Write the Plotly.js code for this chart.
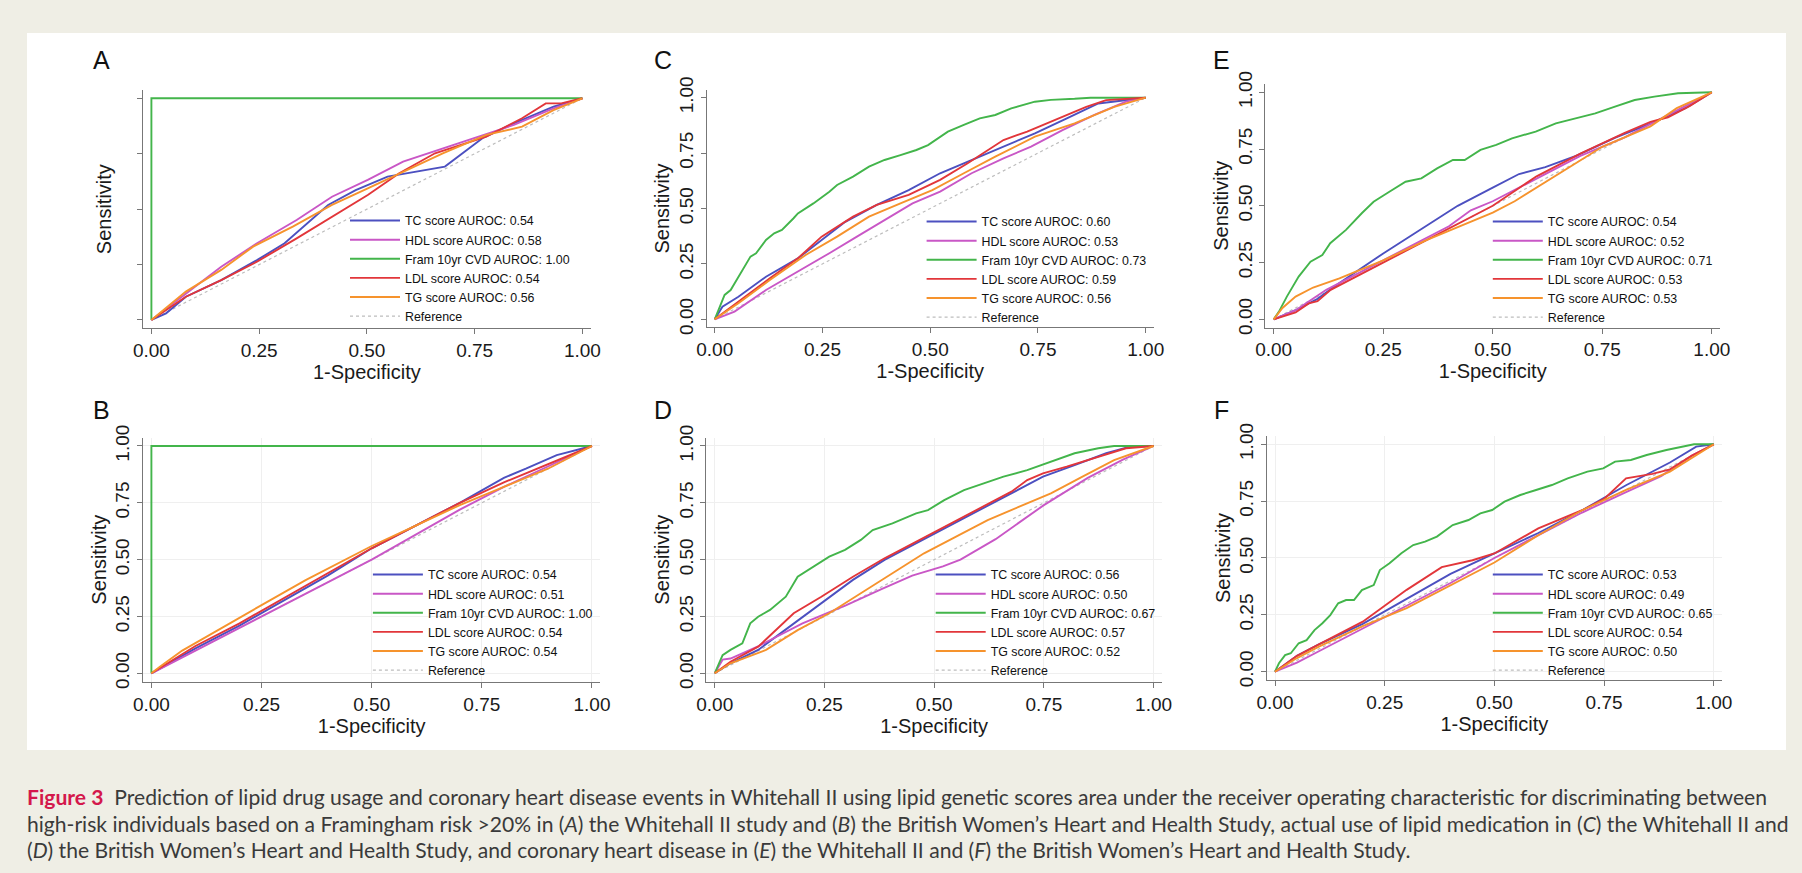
<!DOCTYPE html>
<html><head><meta charset="utf-8">
<script src="https://cdn.plot.ly/plotly-3.0.1.min.js"></script>
<style>html,body{margin:0;padding:0;background:#efeee5;} #chart{width:1802px;height:873px;}</style>
</head><body><div id="chart"></div>
<script>
// ---------- data ----------
const seriesNames = ['TC score', 'HDL score', 'Fram 10yr CVD', 'LDL score', 'TG score'];
const panelLetters = ['A', 'C', 'E', 'B', 'D', 'F'];
const tickVals = [0, 0.25, 0.5, 0.75, 1];
const tickText = ['0.00', '0.25', '0.50', '0.75', '1.00'];
const xTitle = '1-Specificity';
const yTitle = 'Sensitivity';

const aurocA = [0.54, 0.58, 1.00, 0.54, 0.56];
const aurocB = [0.54, 0.51, 1.00, 0.54, 0.54];
const aurocC = [0.60, 0.53, 0.73, 0.59, 0.56];
const aurocD = [0.56, 0.50, 0.67, 0.57, 0.52];
const aurocE = [0.54, 0.52, 0.71, 0.53, 0.53];
const aurocF = [0.53, 0.49, 0.65, 0.54, 0.50];

const ref_x = [0, 1];
const ref_y = [0, 1];

// Panel A
const A_tc_x = [0,0.034,0.08,0.162,0.245,0.309,0.41,0.474,0.548,0.612,0.681,0.768,0.841,0.933,1];
const A_tc_y = [0,0.03,0.105,0.18,0.27,0.346,0.519,0.586,0.647,0.669,0.692,0.82,0.887,0.962,1];
const A_hdl_x = [0,0.08,0.162,0.245,0.337,0.419,0.502,0.584,0.676,0.768,0.841,0.933,1];
const A_hdl_y = [0,0.12,0.24,0.346,0.451,0.556,0.632,0.714,0.774,0.835,0.88,0.955,1];
const A_fram_x = [0,0,1];
const A_fram_y = [0,1,1];
const A_ldl_x = [0,0.08,0.162,0.245,0.337,0.419,0.502,0.575,0.658,0.777,0.86,0.915,0.951,1];
const A_ldl_y = [0,0.105,0.18,0.263,0.368,0.466,0.564,0.662,0.752,0.827,0.91,0.977,0.977,1];
const A_tg_x = [0,0.08,0.162,0.236,0.328,0.419,0.502,0.584,0.676,0.777,0.86,0.933,1];
const A_tg_y = [0,0.128,0.226,0.331,0.421,0.519,0.594,0.669,0.752,0.835,0.872,0.947,1];

// Panel B
const B_tc_x = [0,0.05,0.1,0.2,0.3,0.4,0.5,0.6,0.7,0.8,0.85,0.92,1];
const B_tc_y = [0,0.055,0.11,0.21,0.32,0.43,0.55,0.65,0.75,0.86,0.9,0.96,1];
const B_hdl_x = [0,0.1,0.2,0.3,0.4,0.5,0.6,0.7,0.8,0.9,1];
const B_hdl_y = [0,0.1,0.2,0.3,0.4,0.5,0.61,0.72,0.82,0.91,1];
const B_fram_x = [0,0,1];
const B_fram_y = [0,1,1];
const B_ldl_x = [0,0.05,0.1,0.2,0.3,0.4,0.5,0.6,0.7,0.8,0.9,0.95,1];
const B_ldl_y = [0,0.06,0.12,0.22,0.33,0.44,0.55,0.65,0.75,0.84,0.92,0.96,1];
const B_tg_x = [0,0.02,0.07,0.15,0.25,0.35,0.45,0.5,0.6,0.7,0.8,0.9,1];
const B_tg_y = [0,0.03,0.1,0.19,0.3,0.41,0.51,0.56,0.65,0.74,0.82,0.9,1];

// Panel C
const C_tc_x = [0,0.018,0.055,0.119,0.193,0.248,0.303,0.376,0.45,0.523,0.596,0.67,0.743,0.817,0.89,1];
const C_tc_y = [0,0.057,0.102,0.192,0.275,0.358,0.44,0.516,0.583,0.659,0.719,0.779,0.839,0.907,0.974,1];
const C_hdl_x = [0,0.046,0.119,0.193,0.266,0.33,0.394,0.459,0.523,0.596,0.67,0.734,0.807,0.881,0.954,1];
const C_hdl_y = [0,0.035,0.132,0.215,0.298,0.373,0.448,0.523,0.576,0.659,0.726,0.779,0.854,0.922,0.982,1];
const C_fram_x = [0,0.009,0.023,0.037,0.055,0.073,0.083,0.096,0.119,0.138,0.156,0.183,0.193,0.229,0.266,0.284,0.321,0.358,0.394,0.431,0.468,0.495,0.523,0.541,0.578,0.615,0.651,0.688,0.743,0.78,0.835,0.872,1];
const C_fram_y = [0,0.042,0.11,0.132,0.192,0.253,0.283,0.298,0.358,0.388,0.403,0.456,0.478,0.523,0.576,0.606,0.644,0.689,0.719,0.741,0.764,0.786,0.824,0.847,0.877,0.907,0.922,0.952,0.982,0.99,0.995,1,1];
const C_ldl_x = [0,0.055,0.128,0.193,0.248,0.321,0.376,0.45,0.523,0.587,0.633,0.67,0.725,0.798,0.862,0.908,1];
const C_ldl_y = [0,0.08,0.185,0.275,0.373,0.463,0.516,0.561,0.629,0.704,0.764,0.809,0.847,0.907,0.959,0.989,1];
const C_tg_x = [0,0.055,0.128,0.211,0.284,0.358,0.431,0.505,0.578,0.651,0.743,0.835,0.927,1];
const C_tg_y = [0,0.072,0.177,0.29,0.373,0.463,0.523,0.583,0.659,0.734,0.824,0.884,0.959,1];

// Panel D
const D_tc_x = [0,0.036,0.099,0.171,0.243,0.315,0.387,0.459,0.532,0.604,0.676,0.748,0.82,0.892,0.946,1];
const D_tc_y = [0,0.044,0.103,0.205,0.308,0.411,0.499,0.572,0.645,0.718,0.792,0.865,0.916,0.968,0.997,1];
const D_hdl_x = [0,0.018,0.036,0.1,0.2,0.3,0.38,0.45,0.52,0.56,0.64,0.75,0.85,0.93,1];
const D_hdl_y = [0,0.06,0.065,0.12,0.22,0.3,0.37,0.43,0.47,0.5,0.59,0.74,0.86,0.94,1];
const D_fram_x = [0,0.009,0.018,0.036,0.063,0.081,0.099,0.126,0.162,0.189,0.225,0.261,0.297,0.333,0.36,0.405,0.459,0.486,0.523,0.568,0.613,0.658,0.712,0.775,0.82,0.874,0.91,1];
const D_fram_y = [0,0.044,0.08,0.103,0.132,0.22,0.249,0.279,0.337,0.425,0.469,0.513,0.543,0.587,0.63,0.66,0.704,0.718,0.762,0.806,0.836,0.865,0.894,0.938,0.968,0.99,1,1];
const D_ldl_x = [0,0.036,0.099,0.18,0.243,0.315,0.387,0.459,0.532,0.604,0.676,0.712,0.748,0.802,0.874,0.937,1];
const D_ldl_y = [0,0.051,0.117,0.264,0.337,0.425,0.506,0.579,0.652,0.726,0.799,0.85,0.88,0.909,0.953,0.99,1];
const D_tg_x = [0,0.036,0.117,0.189,0.261,0.333,0.405,0.477,0.55,0.622,0.694,0.766,0.838,0.91,1];
const D_tg_y = [0,0.044,0.103,0.19,0.264,0.352,0.44,0.528,0.601,0.674,0.733,0.792,0.865,0.938,1];

// Panel E
const E_tc_x = [0,0.05,0.1,0.15,0.25,0.33,0.42,0.5,0.56,0.62,0.69,0.78,0.87,0.94,1];
const E_tc_y = [0,0.04,0.09,0.16,0.29,0.39,0.5,0.58,0.64,0.67,0.72,0.8,0.87,0.93,1];
const E_hdl_x = [0,0.05,0.12,0.2,0.3,0.4,0.45,0.5,0.6,0.7,0.8,0.9,1];
const E_hdl_y = [0,0.04,0.13,0.21,0.31,0.41,0.48,0.52,0.62,0.72,0.8,0.9,1];
const E_fram_x = [0,0.012,0.03,0.057,0.084,0.111,0.129,0.165,0.201,0.228,0.264,0.301,0.337,0.373,0.409,0.436,0.472,0.508,0.544,0.598,0.644,0.689,0.734,0.779,0.824,0.869,0.923,1];
const E_fram_y = [0,0.034,0.1,0.188,0.254,0.283,0.335,0.394,0.467,0.518,0.562,0.606,0.621,0.665,0.702,0.702,0.746,0.768,0.797,0.827,0.863,0.885,0.907,0.937,0.966,0.981,0.996,1];
const E_ldl_x = [0,0.05,0.08,0.1,0.13,0.2,0.3,0.4,0.5,0.6,0.7,0.8,0.86,0.9,0.95,1];
const E_ldl_y = [0,0.03,0.07,0.08,0.13,0.2,0.3,0.4,0.5,0.63,0.73,0.82,0.87,0.89,0.94,1];
const E_tg_x = [0,0.02,0.05,0.09,0.15,0.25,0.35,0.45,0.5,0.55,0.65,0.75,0.86,0.92,1];
const E_tg_y = [0,0.05,0.1,0.14,0.18,0.26,0.35,0.43,0.47,0.52,0.64,0.76,0.85,0.93,1];

// Panel F
const F_tc_x = [0,0.05,0.1,0.2,0.3,0.4,0.5,0.6,0.7,0.8,0.9,0.96,1];
const F_tc_y = [0,0.07,0.12,0.21,0.32,0.43,0.52,0.61,0.71,0.82,0.92,0.99,1];
const F_hdl_x = [0,0.05,0.1,0.2,0.3,0.4,0.5,0.6,0.7,0.8,0.88,0.95,1];
const F_hdl_y = [0,0.04,0.09,0.19,0.29,0.39,0.5,0.6,0.7,0.79,0.86,0.95,1];
const F_fram_x = [0,0.009,0.023,0.036,0.054,0.072,0.09,0.108,0.126,0.144,0.162,0.18,0.198,0.225,0.239,0.261,0.288,0.315,0.342,0.369,0.405,0.441,0.468,0.495,0.523,0.559,0.595,0.631,0.667,0.712,0.748,0.775,0.811,0.847,0.892,0.928,0.955,1];
const F_fram_y = [0,0.037,0.073,0.081,0.125,0.139,0.183,0.213,0.249,0.301,0.315,0.315,0.359,0.381,0.447,0.477,0.521,0.557,0.572,0.594,0.645,0.667,0.696,0.711,0.748,0.777,0.799,0.821,0.85,0.88,0.894,0.924,0.931,0.953,0.975,0.99,1,1];
const F_ldl_x = [0,0.05,0.1,0.2,0.3,0.38,0.45,0.5,0.6,0.7,0.75,0.8,0.86,0.9,0.95,1];
const F_ldl_y = [0,0.07,0.12,0.22,0.36,0.46,0.49,0.52,0.63,0.71,0.76,0.85,0.87,0.89,0.95,1];
const F_tg_x = [0,0.05,0.1,0.2,0.3,0.4,0.5,0.6,0.7,0.8,0.9,1];
const F_tg_y = [0,0.06,0.11,0.2,0.28,0.38,0.48,0.6,0.71,0.8,0.88,1];

const captionLines = [
  '<b><span style="color:#d4184c">Figure 3</span></b>\u00a0 Prediction of lipid drug usage and coronary heart disease events in Whitehall II using lipid genetic scores area under the receiver operating characteristic for discriminating between',
  'high-risk individuals based on a Framingham risk >20% in (<i>A</i>) the Whitehall II study and (<i>B</i>) the British Women\u2019s Heart and Health Study, actual use of lipid medication in (<i>C</i>) the Whitehall II and',
  '(<i>D</i>) the British Women\u2019s Heart and Health Study, and coronary heart disease in (<i>E</i>) the Whitehall II and (<i>F</i>) the British Women\u2019s Heart and Health Study.'
];

// ---------- assembling ----------
const panelSeries = {
  A: [[A_tc_x,A_tc_y],[A_hdl_x,A_hdl_y],[A_fram_x,A_fram_y],[A_ldl_x,A_ldl_y],[A_tg_x,A_tg_y]],
  B: [[B_tc_x,B_tc_y],[B_hdl_x,B_hdl_y],[B_fram_x,B_fram_y],[B_ldl_x,B_ldl_y],[B_tg_x,B_tg_y]],
  C: [[C_tc_x,C_tc_y],[C_hdl_x,C_hdl_y],[C_fram_x,C_fram_y],[C_ldl_x,C_ldl_y],[C_tg_x,C_tg_y]],
  D: [[D_tc_x,D_tc_y],[D_hdl_x,D_hdl_y],[D_fram_x,D_fram_y],[D_ldl_x,D_ldl_y],[D_tg_x,D_tg_y]],
  E: [[E_tc_x,E_tc_y],[E_hdl_x,E_hdl_y],[E_fram_x,E_fram_y],[E_ldl_x,E_ldl_y],[E_tg_x,E_tg_y]],
  F: [[F_tc_x,F_tc_y],[F_hdl_x,F_hdl_y],[F_fram_x,F_fram_y],[F_ldl_x,F_ldl_y],[F_tg_x,F_tg_y]]
};
const panelAuroc = {A:aurocA,B:aurocB,C:aurocC,D:aurocD,E:aurocE,F:aurocF};

// styling / geometry (pixels)
const W = 1802, H = 873;
const seriesColors = ['#4c50c0', '#c957c6', '#43b54b', '#e2363a', '#f6932d'];
const LEG_ITEM = 50;
const geom = {
  A: {x0:151.4, x1:582.4, yt:98.3, yb:320,   tx:401,   ly:206, lab:[101,60],  ylabels:false, grid:false},
  C: {x0:714.7, x1:1145.7,yt:97.7, yb:319.3, tx:977.6, ly:207, lab:[663,60],  ylabels:true,  grid:false},
  E: {x0:1273.7,x1:1711.8,yt:92.3, yb:319.3, tx:1543.8,ly:207, lab:[1221,60], ylabels:true,  grid:false},
  B: {x0:151.4, x1:592,   yt:446,  yb:673.3, tx:423.9, ly:560, lab:[101,410], ylabels:true,  grid:true},
  D: {x0:714.7, x1:1153.6,yt:446,  yb:673.3, tx:986.7, ly:560, lab:[663,410], ylabels:true,  grid:true},
  F: {x0:1275,  x1:1713.8,yt:444.3,yb:671.7, tx:1543.8,ly:560, lab:[1221,410],ylabels:true,  grid:true}
};
const XP = 0.019, YP = 0.037;
const FONT = 'Liberation Sans, Arial, sans-serif';

const traces = [];
const layout = {
  width: W, height: H,
  margin: {l:0, r:0, t:0, b:0},
  paper_bgcolor: '#efeee5',
  plot_bgcolor: '#ffffff',
  hovermode: false,
  font: {family: FONT, color: '#222'},
  shapes: [{type:'rect', xref:'paper', yref:'paper', x0:27/W, x1:1786/W, y0:1-750/H, y1:1-33/H,
            fillcolor:'#ffffff', line:{width:0}, layer:'below'}],
  annotations: []
};

panelLetters.forEach((p, i) => {
  const n = i + 1;
  const sfx = n === 1 ? '' : String(n);
  const g = geom[p];
  const w = g.x1 - g.x0, h = g.yb - g.yt;
  const legKey = 'legend' + sfx;
  layout['xaxis' + sfx] = {
    domain: [(g.x0 - XP*w)/W, (g.x1 + XP*w)/W],
    range: [-XP, 1 + XP], anchor: 'y' + sfx,
    tickvals: tickVals, ticktext: tickText,
    showline: true, linecolor: '#777', linewidth: 1,
    ticks: 'outside', ticklen: 5, tickcolor: '#777',
    zeroline: false, showgrid: g.grid, gridcolor: '#efefef',
    tickfont: {size: 19, family: FONT, color: '#1a1a1a'},
    title: {text: xTitle, font: {size: 20, family: FONT, color: '#1a1a1a'}, standoff: 4},
    fixedrange: true
  };
  layout['yaxis' + sfx] = {
    domain: [1 - (g.yb + YP*h)/H, 1 - (g.yt - YP*h)/H],
    range: [-YP, 1 + YP], anchor: 'x' + sfx,
    tickvals: tickVals, ticktext: tickText, tickangle: -90,
    showticklabels: g.ylabels,
    showline: true, linecolor: '#777', linewidth: 1,
    ticks: 'outside', ticklen: 5, tickcolor: '#777',
    zeroline: false, showgrid: g.grid, gridcolor: '#efefef',
    tickfont: {size: 19, family: FONT, color: '#1a1a1a'},
    title: {text: yTitle, font: {size: 20, family: FONT, color: '#1a1a1a'}, standoff: g.ylabels ? 0 : 20},
    fixedrange: true
  };
  layout[legKey] = {
    x: (g.tx - LEG_ITEM - 6) / W, y: 1 - g.ly / H, xref: 'paper', yref: 'paper',
    xanchor: 'left', yanchor: 'top',
    bgcolor: 'rgba(0,0,0,0)', borderwidth: 0,
    font: {size: 12.4, family: FONT, color: '#111'},
    tracegroupgap: 0, itemwidth: LEG_ITEM
  };
  traces.push({
    x: ref_x, y: ref_y, type: 'scatter', mode: 'lines',
    name: 'Reference', xaxis: 'x' + sfx, yaxis: 'y' + sfx, legend: legKey,
    line: {color: '#bdbdbd', width: 1.2, dash: 'dot'}, legendrank: 1006
  });
  panelSeries[p].forEach((s, k) => {
    traces.push({
      x: s[0], y: s[1], type: 'scatter', mode: 'lines',
      name: seriesNames[k] + ' AUROC: ' + panelAuroc[p][k].toFixed(2),
      xaxis: 'x' + sfx, yaxis: 'y' + sfx, legend: legKey,
      line: {color: seriesColors[k], width: 1.9}, legendrank: 1000 + k
    });
  });
  layout.annotations.push({
    text: p, xref: 'paper', yref: 'paper', x: g.lab[0]/W, y: 1 - g.lab[1]/H,
    xanchor: 'center', yanchor: 'middle', showarrow: false,
    font: {size: 25, family: FONT, color: '#111'}
  });
});

const capY = [796, 823, 849];
captionLines.forEach((t, i) => {
  layout.annotations.push({
    text: t, xref: 'paper', yref: 'paper', x: 25/W, y: 1 - capY[i]/H,
    xanchor: 'left', yanchor: 'middle', showarrow: false, align: 'left',
    font: {size: 21.1, family: 'Lato, Liberation Sans, sans-serif', color: '#3a3a3a'}
  });
});

Plotly.newPlot('chart', traces, layout, {displayModeBar: false, staticPlot: true});
</script>
</body></html>
